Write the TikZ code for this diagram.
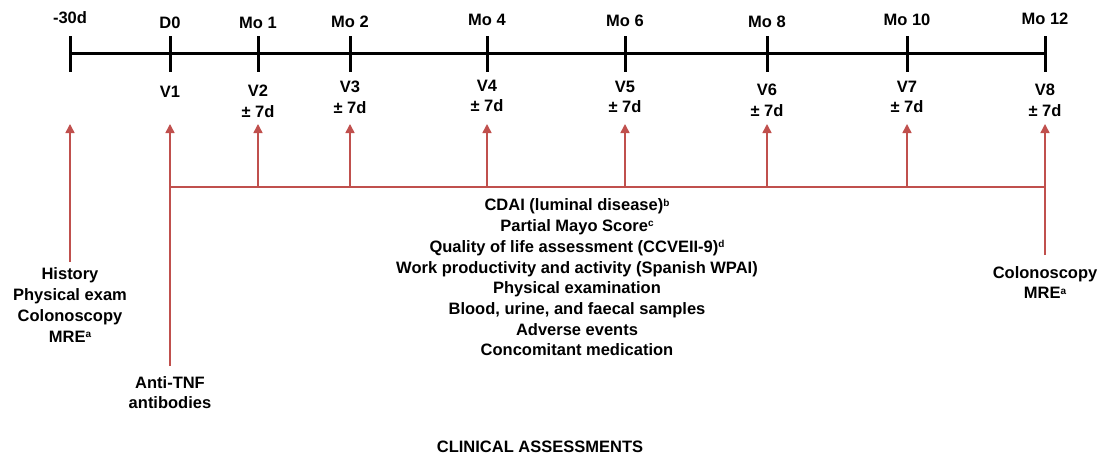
\documentclass[tikz,border=0pt]{standalone}
\usepackage{fontspec}
\setmainfont{Liberation Sans}
\usetikzlibrary{arrows.meta}
\definecolor{arrred}{RGB}{192,80,77}
\newcommand{\supnote}[1]{\raisebox{0.55ex}{\fontsize{10}{10}\selectfont #1}}
\begin{document}
\begin{tikzpicture}[x=1pt,y=-1pt,
  lbl/.style={font=\fontsize{16.5}{20.7}\selectfont\bfseries, inner sep=0pt, align=center},
  tickline/.style={line width=3pt, black},
  redline/.style={arrred, line width=1.5pt},
  redarrow/.style={redline, -{Triangle[width=9pt,length=9pt]}}]
\useasboundingbox (0,0) rectangle (1098,460);
% timeline
\coordinate (t0) at (70,54);
\coordinate (t1) at (170,54);
\coordinate (t2) at (258,54);
\coordinate (t3) at (350,54);
\coordinate (t4) at (487,54);
\coordinate (t5) at (625,54);
\coordinate (t6) at (767,54);
\coordinate (t7) at (907,54);
\coordinate (t8) at (1045,54);
\draw[tickline] (t0) -- (t8);
\foreach \i in {0,...,8} {\draw[tickline] ([yshift=-18pt]t\i) -- ([yshift=18pt]t\i);}
% top labels
\node[lbl] (l0) at (70,18) {-30d};
\node[lbl] (l1) at (170,23) {D0};
\node[lbl] (l2) at (258,23) {Mo 1};
\node[lbl] (l3) at (350,22) {Mo 2};
\node[lbl] (l4) at (487,20) {Mo 4};
\node[lbl] (l5) at (625,21) {Mo 6};
\node[lbl] (l6) at (767,22) {Mo 8};
\node[lbl] (l7) at (907,20) {Mo 10};
\node[lbl] (l8) at (1045,19) {Mo 12};
% visit labels
\node[lbl] (v1) at (170,92) {V1};
\node[lbl] (v2) at (258,101) {V2\\± 7d};
\node[lbl] (v3) at (350,97) {V3\\± 7d};
\node[lbl] (v4) at (487,96) {V4\\± 7d};
\node[lbl] (v5) at (625,97) {V5\\± 7d};
\node[lbl] (v6) at (767,100) {V6\\± 7d};
\node[lbl] (v7) at (907,97) {V7\\± 7d};
\node[lbl] (v8) at (1045,100) {V8\\± 7d};
% arrow tips
\coordinate (a0) at (70,124);
\coordinate (a1) at (170,124);
\coordinate (a2) at (258,124);
\coordinate (a3) at (350,124);
\coordinate (a4) at (487,124);
\coordinate (a5) at (625,124);
\coordinate (a6) at (767,124);
\coordinate (a7) at (907,124);
\coordinate (a8) at (1045,124);
% arrow tails
\coordinate (s0) at (70,262);
\coordinate (s1) at (170,366);
\coordinate (s8) at (1045,255);
% branch points on the horizontal line
\coordinate (b1) at (170,187);
\coordinate (b2) at (258,187);
\coordinate (b3) at (350,187);
\coordinate (b4) at (487,187);
\coordinate (b5) at (625,187);
\coordinate (b6) at (767,187);
\coordinate (b7) at (907,187);
\coordinate (b8) at (1045,187);
% text blocks
\node[lbl] (hist) at (70,305) {History\\Physical exam\\Colonoscopy\\MRE\supnote{a}};
\node[lbl] (anti) at (170,392.5) {Anti-TNF\\antibodies};
\node[lbl] (colo) at (1045,282.5) {Colonoscopy\\MRE\supnote{a}};
\node[lbl] (mid) at (577,277.5) {CDAI (luminal disease)\supnote{b}\\
Partial Mayo Score\supnote{c}\\
Quality of life assessment (CCVEII-9)\supnote{d}\\
Work productivity and activity (Spanish WPAI)\\
Physical examination\\
Blood, urine, and faecal samples\\
Adverse events\\
Concomitant medication};
\node[lbl] (title) at (540,447) {CLINICAL ASSESSMENTS};
% red connectors
\draw[redarrow] (s0) -- (a0);
\draw[redarrow] (s1) -- (a1);
\draw[redarrow] (s8) -- (a8);
\draw[redline] (b1) -- (b8);
\foreach \i in {2,...,7} {\draw[redarrow] (b\i) -- (a\i);}
\end{tikzpicture}
\end{document}
